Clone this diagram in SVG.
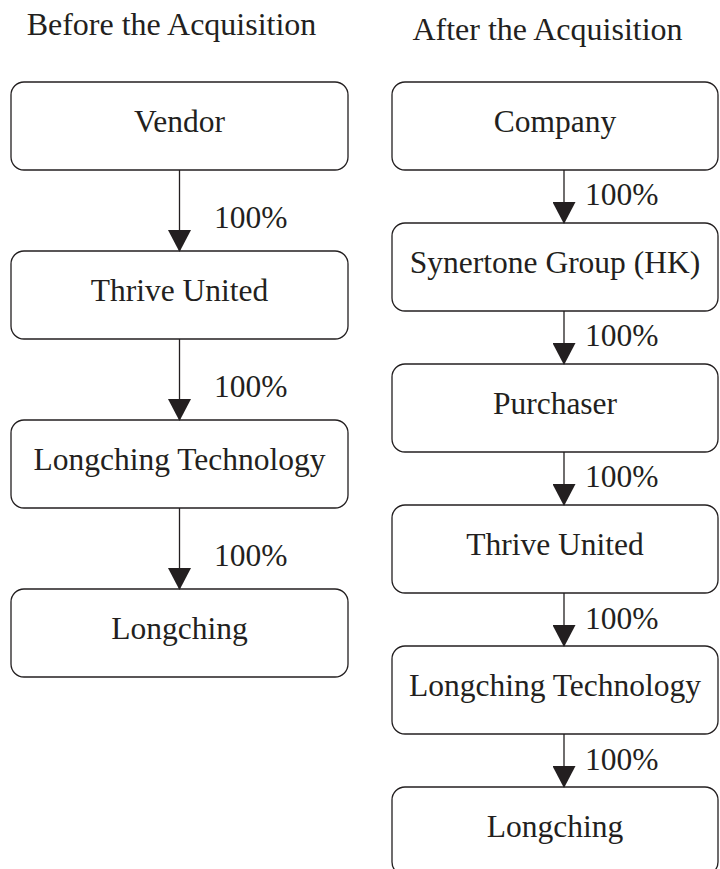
<svg xmlns="http://www.w3.org/2000/svg" width="720" height="869" viewBox="0 0 720 869">
<style>
text{font-family:"Liberation Serif","Times New Roman",serif;font-size:31.5px;fill:#231f20}
.t{font-size:32px}
.box{fill:#fff;stroke:#231f20;stroke-width:1.3}
.c{text-anchor:middle}
.conn line{stroke:#231f20;stroke-width:1.3}
</style>
<defs>
<marker id="ah" markerUnits="userSpaceOnUse" markerWidth="22" markerHeight="23" viewBox="0 0 22 23" refX="21" refY="11.5" orient="auto">
<path d="M0,0 L22,11.5 L0,23 z" fill="#231f20"/>
</marker>
</defs>
<rect width="720" height="869" fill="#fff"/>
<text x="171.5" y="35" class="c t">Before the Acquisition</text>
<text x="547.5" y="40" class="c t">After the Acquisition</text>
<g id="L1"><rect class="box" x="11" y="82" width="337" height="88" rx="13"/><text x="179.5" y="132" class="c">Vendor</text></g>
<g id="L2"><rect class="box" x="11" y="251" width="337" height="88" rx="13"/><text x="179.5" y="301" class="c">Thrive United</text></g>
<g id="L3"><rect class="box" x="11" y="420" width="337" height="88" rx="13"/><text x="179.5" y="470" class="c">Longching Technology</text></g>
<g id="L4"><rect class="box" x="11" y="589" width="337" height="88" rx="13"/><text x="179.5" y="639" class="c">Longching</text></g>
<g id="R1"><rect class="box" x="392" y="82" width="326" height="88" rx="13"/><text x="555" y="132" class="c">Company</text></g>
<g id="R2"><rect class="box" x="392" y="223" width="326" height="88" rx="13"/><text x="555" y="273" class="c">Synertone Group (HK)</text></g>
<g id="R3"><rect class="box" x="392" y="364" width="326" height="88" rx="13"/><text x="555" y="414" class="c">Purchaser</text></g>
<g id="R4"><rect class="box" x="392" y="505" width="326" height="88" rx="13"/><text x="555" y="555" class="c">Thrive United</text></g>
<g id="R5"><rect class="box" x="392" y="646" width="326" height="88" rx="13"/><text x="555" y="696" class="c">Longching Technology</text></g>
<g id="R6"><rect class="box" x="392" y="787" width="326" height="88" rx="13"/><text x="555" y="837" class="c">Longching</text></g>
<g id="connectors" class="conn">
<line x1="179.5" y1="170" x2="179.5" y2="251" marker-end="url(#ah)"/>
<line x1="179.5" y1="339" x2="179.5" y2="420" marker-end="url(#ah)"/>
<line x1="179.5" y1="508" x2="179.5" y2="589" marker-end="url(#ah)"/>
<line x1="564" y1="170" x2="564" y2="223" marker-end="url(#ah)"/>
<line x1="564" y1="311" x2="564" y2="364" marker-end="url(#ah)"/>
<line x1="564" y1="452" x2="564" y2="505" marker-end="url(#ah)"/>
<line x1="564" y1="593" x2="564" y2="646" marker-end="url(#ah)"/>
<line x1="564" y1="734" x2="564" y2="787" marker-end="url(#ah)"/>
<text x="214" y="228">100%</text>
<text x="214" y="397">100%</text>
<text x="214" y="566">100%</text>
<text x="585" y="205">100%</text>
<text x="585" y="346">100%</text>
<text x="585" y="487">100%</text>
<text x="585" y="629">100%</text>
<text x="585" y="770">100%</text>
</g>
</svg>
